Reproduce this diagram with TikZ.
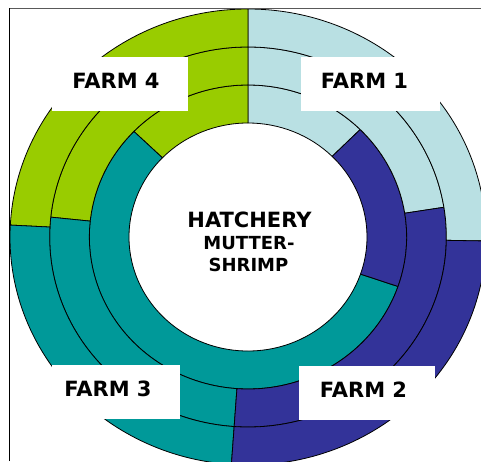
\documentclass[tikz,border=0pt]{standalone}
\usepackage{fontspec}
\setmainfont{DejaVu Sans}
\definecolor{lblue}{HTML}{B9E0E3}
\definecolor{lime}{HTML}{99CC00}
\definecolor{tealc}{HTML}{009999}
\definecolor{navyc}{HTML}{333399}
\newcommand{\ringseg}[5]{%
  \filldraw[seg, fill=#1] (#2:#4) arc[start angle=#2, end angle=#3, radius=#4]
    -- (#3:#5) arc[start angle=#3, end angle=#2, radius=#5] -- cycle;}
\begin{document}
\begin{tikzpicture}[x=1pt,y=1pt,
  seg/.style={draw=black, line width=0.8pt, line join=round},
  farmbox/.style={fill=white, draw=none, inner sep=0pt, anchor=south west},
  farmtext/.style={font=\bfseries\fontsize{21}{21}\selectfont, anchor=base, inner sep=0pt},
  midtext/.style={font=\bfseries\fontsize{18}{18}\selectfont, anchor=base, inner sep=0pt},
  bigtext/.style={font=\bfseries\fontsize{21}{21}\selectfont, anchor=base, inner sep=0pt}]
\useasboundingbox (0,0) rectangle (481,461);
\fill[white] (0,0) rectangle (481,461);
\begin{scope}
\clip (0,0) rectangle (481,461);
\begin{scope}[shift={(248,224)}, xscale=119, yscale=114]
% inner ring
\ringseg{lblue}{45}{90}{1.3333}{1}
\ringseg{lime}{90}{136}{1.3333}{1}
\ringseg{tealc}{136}{341}{1.3333}{1}
\ringseg{navyc}{341}{405}{1.3333}{1}
% middle ring
\ringseg{lblue}{9}{90}{1.6667}{1.3333}
\ringseg{lime}{90}{174}{1.6667}{1.3333}
\ringseg{tealc}{174}{266}{1.6667}{1.3333}
\ringseg{navyc}{266}{369}{1.6667}{1.3333}
% outer ring
\ringseg{lblue}{-1}{90}{2}{1.6667}
\ringseg{lime}{90}{177}{2}{1.6667}
\ringseg{tealc}{177}{266}{2}{1.6667}
\ringseg{navyc}{266}{359}{2}{1.6667}
\end{scope}
% frame
\draw[black!65, line width=1.5pt] (9,452.5) -- (481,452.5);
\draw[black, line width=1pt] (9.5,0) -- (9.5,453);
% label boxes
\node[farmbox, minimum width=136pt, minimum height=54pt] (box4) at (52,350) {};
\node[farmbox, minimum width=139pt, minimum height=54pt] (box1) at (301,350) {};
\node[farmbox, minimum width=128pt, minimum height=54pt] (box3) at (52,42) {};
\node[farmbox, minimum width=136pt, minimum height=54pt] (box2) at (299,41) {};
\node[farmtext] (t4) at (116,372) {FARM 4};
\node[farmtext] (t1) at (364.5,372) {FARM 1};
\node[farmtext] (t3) at (108,65) {FARM 3};
\node[farmtext] (t2) at (363.5,64) {FARM 2};
% centre
\node[bigtext] (hatch) at (249.5,234) {HATCHERY};
\node[midtext] (mutter) at (249,212) {MUTTER-};
\node[midtext] (shrimp) at (248.5,190) {SHRIMP};
\end{scope}
\end{tikzpicture}
\end{document}
